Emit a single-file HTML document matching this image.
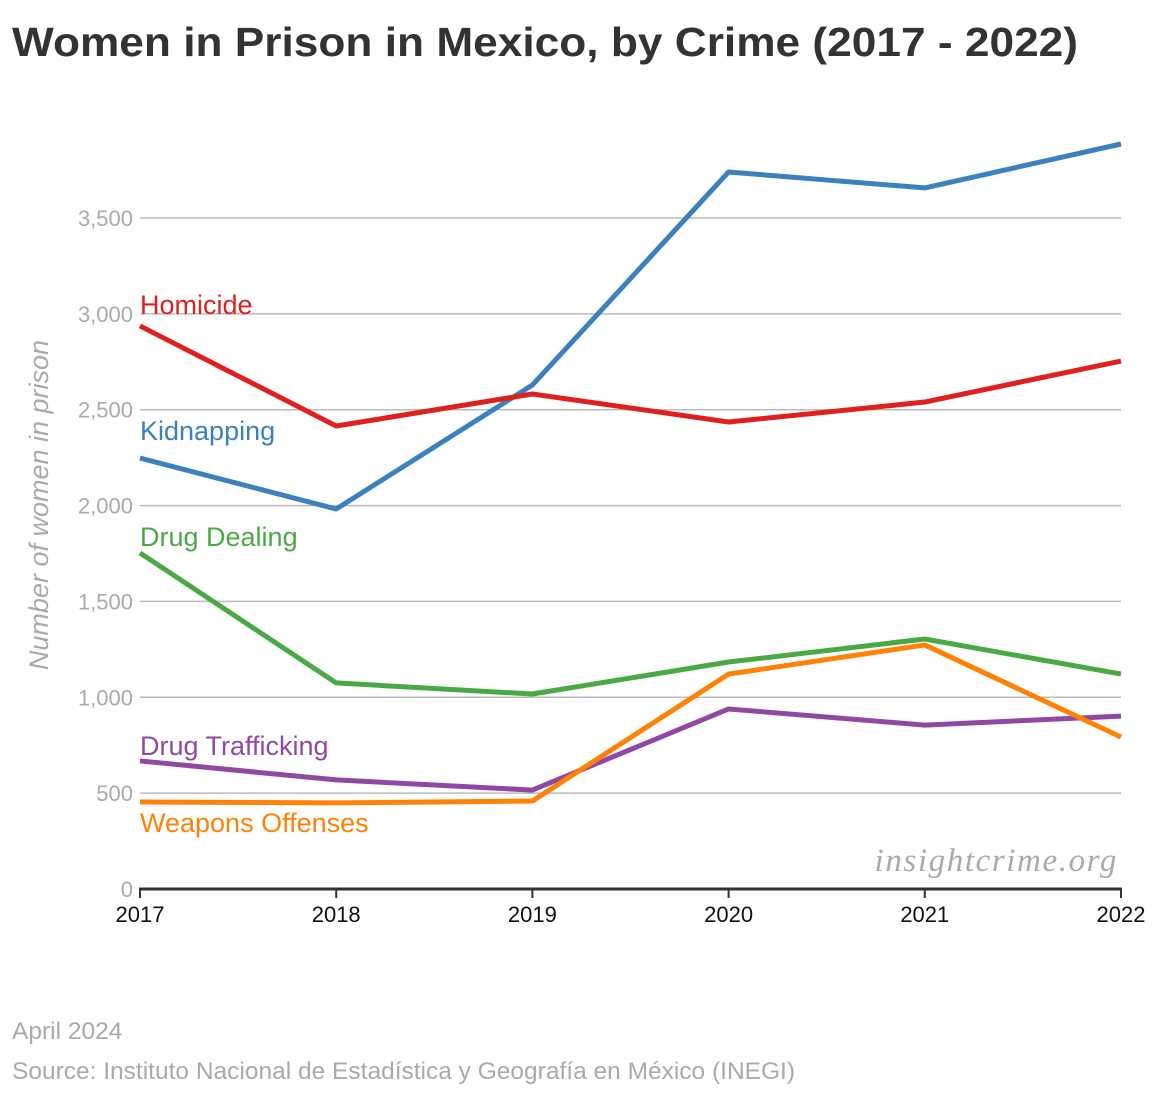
<!DOCTYPE html>
<html><head><meta charset="utf-8"><style>
body{margin:0;background:#fff;font-family:"Liberation Sans",sans-serif;}
#wrap{position:relative;width:1172px;height:1096px;overflow:hidden}
</style></head><body>
<div id="wrap">
<svg id="chart" width="1172" height="1096"></svg>
</div>
<script>
const years=[2017,2018,2019,2020,2021,2022];
const yTicks=[0,500,1000,1500,2000,2500,3000,3500];
const yTickLabels=["0","500","1,000","1,500","2,000","2,500","3,000","3,500"];
const kidnapping=[2248,1982,2629,3740,3657,3886];
const homicide=[2937,2415,2582,2436,2540,2754];
const drugDealing=[1753,1075,1017,1184,1304,1121];
const drugTrafficking=[668,569,516,939,855,902];
const weapons=[454,449,459,1121,1273,793];
const seriesNames=["Kidnapping","Homicide","Drug Dealing","Drug Trafficking","Weapons Offenses"];

const NS="http://www.w3.org/2000/svg";
const svg=document.getElementById('chart');
const x0=140,x1=1121,yBase=889,pxPer=(889-218)/3500;
const xs=i=>x0+(x1-x0)*i/(years.length-1);
const ys=v=>yBase-v*pxPer;
function mk(tag,attrs,parent){const e=document.createElementNS(NS,tag);for(const k in attrs)e.setAttribute(k,attrs[k]);(parent||svg).appendChild(e);return e;}
function txt(s,attrs){const e=mk('text',attrs);e.textContent=s;return e;}

let t=txt("Women in Prison in Mexico, by Crime (2017 - 2022)",{x:12,y:56,'font-size':41,'font-weight':'bold',fill:'#333',textLength:1066,lengthAdjust:'spacingAndGlyphs'});



yTicks.forEach((v,i)=>{
  if(v>0){const g=mk('line',{x1:x0,x2:x1,y1:ys(v),y2:ys(v),stroke:'#bbb','stroke-width':1.5});
  
  }
  const l=txt(yTickLabels[i],{x:133,y:ys(v)+8,'text-anchor':'end','font-size':22,fill:'#aaa'});
  
  
});
let yt=txt("Number of women in prison",{x:0,y:0,transform:"translate(48,505) rotate(-90)",'text-anchor':'middle','font-size':27,'font-style':'italic',fill:'#aaa'});



let wm=txt("insightcrime.org",{x:1118,y:871,'text-anchor':'end','font-size':33,'font-style':'italic','font-family':'"Liberation Serif",serif',fill:'#aaa','letter-spacing':1.6});



const series=[[kidnapping,'#3a81bd'],[homicide,'#e0201f'],[drugDealing,'#4aa944'],[drugTrafficking,'#9148a5'],[weapons,'#ff8105']];
const labelY=[431,305,537,746,823];
series.forEach((s,k)=>{
  const p=mk('polyline',{points:s[0].map((v,i)=>xs(i)+','+ys(v)).join(' '),fill:'none',stroke:s[1],'stroke-width':5,'stroke-linejoin':'round'});
  
  
  const l=txt(seriesNames[k],{x:140,y:labelY[k]+9,'font-size':27,fill:s[1]});
  
  
});

const ax=mk('line',{x1:x0-1,x2:x1+1,y1:yBase,y2:yBase,stroke:'#333','stroke-width':3});


years.forEach((y,i)=>{
  const tk=mk('line',{x1:xs(i),x2:xs(i),y1:yBase,y2:yBase+9,stroke:'#333','stroke-width':2});
  
  
  const l=txt(String(y),{x:xs(i),y:922,'text-anchor':'middle','font-size':22,fill:'#111'});
  
  
});

let d=txt("April 2024",{x:12,y:1039,'font-size':24.5,fill:'#aaa'});


let src=txt("Source: Instituto Nacional de Estadística y Geografía en México (INEGI)",{x:12,y:1079,'font-size':24.5,fill:'#aaa'});


</script>
</body></html>
